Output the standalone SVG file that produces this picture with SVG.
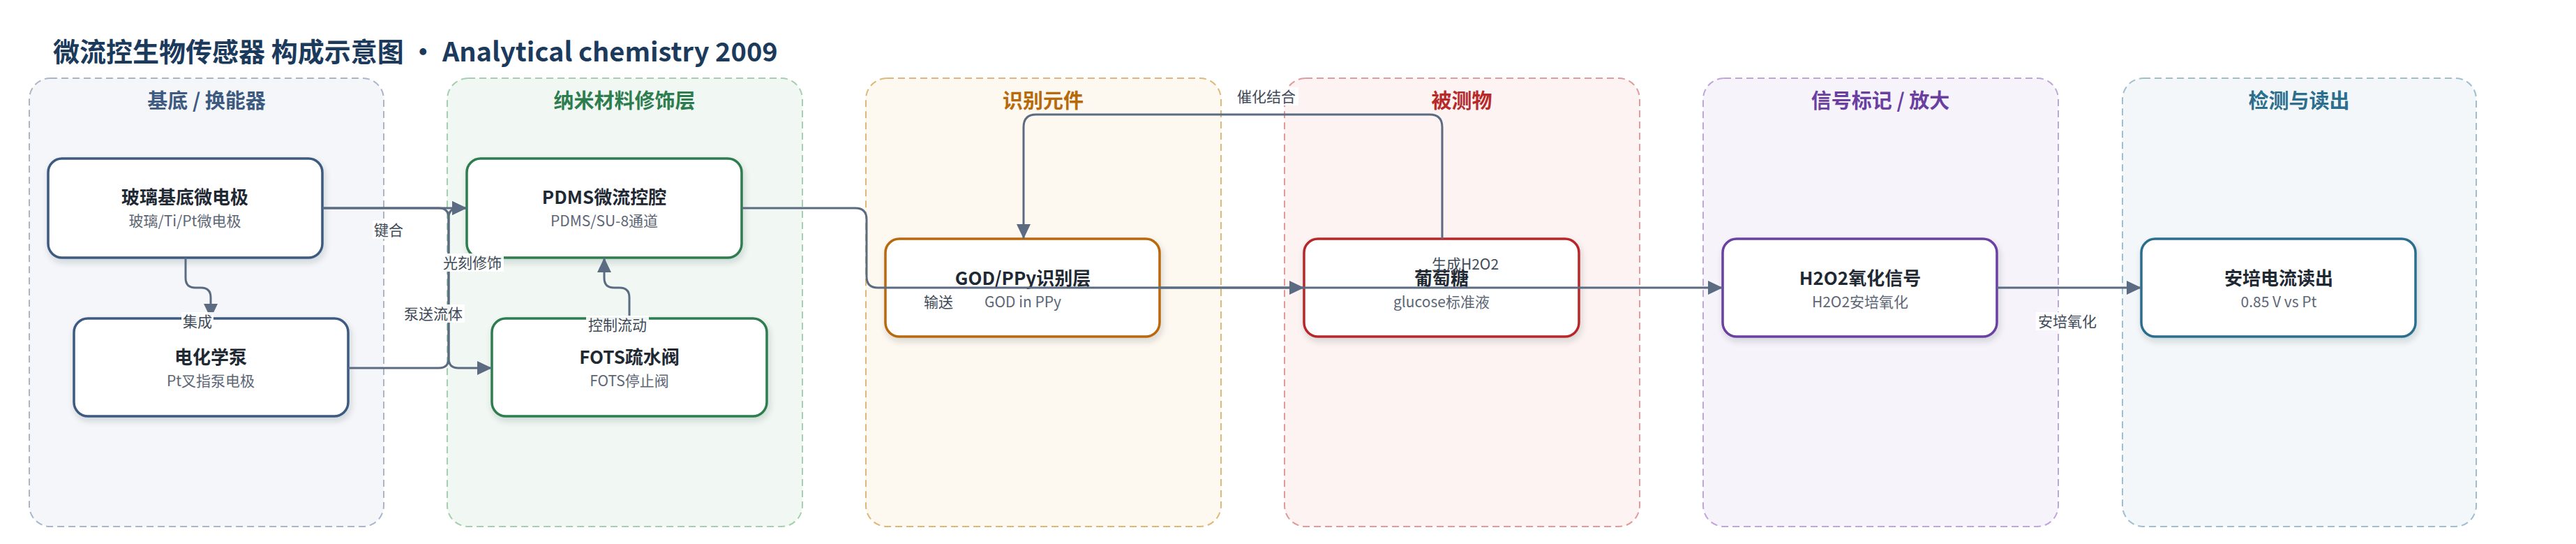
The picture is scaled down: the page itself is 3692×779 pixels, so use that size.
<svg xmlns="http://www.w3.org/2000/svg" width="3692" height="779" viewBox="0 0 3692 779">
<style>
text{font-family:"Noto Sans CJK SC","Noto Sans",sans-serif;}
.title{font-size:38px;font-weight:700;fill:#1b3a5c;}
.gt{font-size:29px;font-weight:700;text-anchor:middle;}
.grp{stroke-width:2;stroke-dasharray:10 6;}
.node{fill:#fff;stroke-width:3.5;filter:url(#sh);}
.nt{font-size:26px;font-weight:700;fill:#1f2933;text-anchor:middle;}
.ns{font-size:21px;fill:#5c6675;text-anchor:middle;}
.edge{fill:none;stroke:#5a6b82;stroke-width:3;marker-end:url(#arr);}
.lbl{font-size:21px;fill:#3f4a58;text-anchor:middle;}
.lbg{fill:#fff;opacity:0.92;}
</style>
<defs>
<filter id="sh" x="-10%" y="-20%" width="125%" height="150%">
<feDropShadow dx="2" dy="5" stdDeviation="5" flood-color="#1f2933" flood-opacity="0.16"/>
</filter>
<marker id="arr" markerUnits="userSpaceOnUse" markerWidth="21" markerHeight="20" viewBox="0 0 21 20" refX="21" refY="10" orient="auto">
<path d="M0,0 L21,10 L0,20 z" fill="#5a6b82"/>
</marker>
</defs>
<rect width="3692" height="779" fill="#fff"/>
<text class="title" x="76" y="88">微流控生物传感器 构成示意图 · Analytical chemistry 2009</text>

<g id="groups">
<g id="g-substrate"><rect class="grp" x="42" y="112" width="508" height="642" rx="30" fill="#f4f6fa" stroke="#a9b6c9"/><text class="gt" x="296" y="155" fill="#3d5a80">基底 / 换能器</text></g>
<g id="g-nano"><rect class="grp" x="641" y="112" width="509" height="642" rx="30" fill="#f1f8f3" stroke="#a5cfb0"/><text class="gt" x="895" y="155" fill="#2e7d4f">纳米材料修饰层</text></g>
<g id="g-recog"><rect class="grp" x="1241" y="112" width="509" height="642" rx="30" fill="#fdf8f0" stroke="#e0b778"/><text class="gt" x="1495" y="155" fill="#b8690a">识别元件</text></g>
<g id="g-analyte"><rect class="grp" x="1841" y="112" width="509" height="642" rx="30" fill="#fdf3f3" stroke="#e29a9a"/><text class="gt" x="2095" y="155" fill="#b82a2a">被测物</text></g>
<g id="g-signal"><rect class="grp" x="2441" y="112" width="509" height="642" rx="30" fill="#f7f3fb" stroke="#c0a5db"/><text class="gt" x="2695" y="155" fill="#6a3fa0">信号标记 / 放大</text></g>
<g id="g-readout"><rect class="grp" x="3042" y="112" width="507" height="642" rx="30" fill="#f3f7f9" stroke="#9fbfcf"/><text class="gt" x="3295" y="155" fill="#2c6e8e">检测与读出</text></g>
</g>

<g id="nodes">
<g id="n-glass"><rect class="node" x="69" y="227" width="393" height="142" rx="20" stroke="#3d5a80"/><text class="nt" x="265" y="292">玻璃基底微电极</text><text class="ns" x="265" y="324">玻璃/Ti/Pt微电极</text></g>
<g id="n-pump"><rect class="node" x="106" y="456" width="393" height="140" rx="20" stroke="#3d5a80"/><text class="nt" x="302" y="521">电化学泵</text><text class="ns" x="302" y="553">Pt叉指泵电极</text></g>
<g id="n-pdms"><rect class="node" x="669" y="227" width="394" height="142" rx="20" stroke="#2e7d4f"/><text class="nt" x="866" y="292">PDMS微流控腔</text><text class="ns" x="866" y="324">PDMS/SU-8通道</text></g>
<g id="n-fots"><rect class="node" x="705" y="456" width="394" height="140" rx="20" stroke="#2e7d4f"/><text class="nt" x="902" y="521">FOTS疏水阀</text><text class="ns" x="902" y="553">FOTS停止阀</text></g>
<g id="n-god"><rect class="node" x="1269" y="342" width="393" height="140" rx="20" stroke="#b8690a"/><text class="nt" x="1466" y="408">GOD/PPy识别层</text><text class="ns" x="1466" y="440">GOD in PPy</text></g>
<g id="n-glucose"><rect class="node" x="1869" y="342" width="394" height="140" rx="20" stroke="#b8282a"/><text class="nt" x="2066" y="408">葡萄糖</text><text class="ns" x="2066" y="440">glucose标准液</text></g>
<g id="n-h2o2"><rect class="node" x="2469" y="342" width="393" height="140" rx="20" stroke="#6a3fa0"/><text class="nt" x="2666" y="408">H2O2氧化信号</text><text class="ns" x="2666" y="440">H2O2安培氧化</text></g>
<g id="n-read"><rect class="node" x="3069" y="342" width="393" height="140" rx="20" stroke="#2c6e8e"/><text class="nt" x="3266" y="408">安培电流读出</text><text class="ns" x="3266" y="440">0.85 V vs Pt</text></g>
</g>

<g id="connectors">
<path class="edge" d="M266,369 V398 Q266,412 280,412 H288 Q302,412 302,426 V456"/>
<path class="edge" d="M462,298 H669"/>
<path class="edge" d="M462,298 H629 Q643,298 643,312 V513 Q643,527 657,527 H705"/>
<path class="edge" d="M499,527 H629 Q643,527 643,513 V312 Q643,298 657,298 H669"/>
<path class="edge" d="M902,456 V426 Q902,412 888,412 H880 Q866,412 866,398 V369"/>
<path class="edge" d="M1063,298 H1226 Q1242,298 1242,314 V396 Q1242,412 1258,412 H1869"/>
<path class="edge" d="M2067,342 V182 Q2067,164 2049,164 H1485 Q1467,164 1467,182 V342"/>
<path class="edge" d="M1662,412 H2469"/>
<path class="edge" d="M2862,412 H3069"/>
<g id="labels">
<rect class="lbg" x="260" y="447" width="46" height="26"/><text class="lbl" x="283" y="468">集成</text>
<rect class="lbg" x="534" y="316" width="46" height="26"/><text class="lbl" x="557" y="337">键合</text>
<rect class="lbg" x="632" y="363" width="90" height="26"/><text class="lbl" x="677" y="384">光刻修饰</text>
<rect class="lbg" x="576" y="436" width="90" height="26"/><text class="lbl" x="621" y="457">泵送流体</text>
<rect class="lbg" x="840" y="452" width="90" height="26"/><text class="lbl" x="885" y="473">控制流动</text>
<text class="lbl" x="1345" y="440">输送</text>
<rect class="lbg" x="1769" y="125" width="92" height="26"/><text class="lbl" x="1815" y="146">催化结合</text>
<text class="lbl" x="2100" y="386">生成H2O2</text>
<rect class="lbg" x="2918" y="447" width="90" height="26"/><text class="lbl" x="2963" y="468">安培氧化</text>
</g>
</g>
</svg>
